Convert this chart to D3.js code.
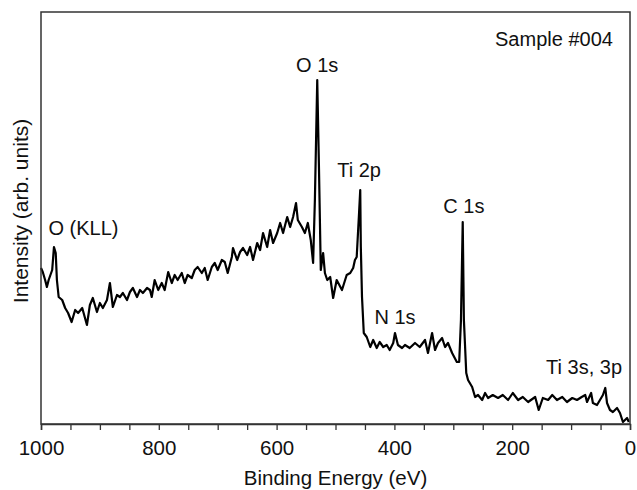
<!DOCTYPE html>
<html>
<head>
<meta charset="utf-8">
<script src="https://cdn.jsdelivr.net/npm/d3@7"></script>
<style>
  html, body { margin: 0; padding: 0; background: #fff; }
  svg { display: block; }
  text { font-family: "Liberation Sans", Arial, Helvetica, sans-serif; fill: #111; }
</style>
</head>
<body>
<svg id="chart" width="637" height="490"></svg>
<script>
// Binding energy (eV)
const energy = [1000,997,993,990,987,981,978,975,973,970,964,959,954,948,942,937,930,922,917,912,905,900,895,888,883,878,871,866,861,854,849,844,837,832,827,820,815,812,807,801,795,790,784,778,773,768,761,756,751,744,739,734,727,722,717,710,705,700,693,688,683,676,674,667,662,657,650,645,640,633,628,623,616,611,606,599,594,589,582,577,572,567,564,557,552,547,542,538,535,531,528,525,521,518,514,509,504,498,489,481,475,470,467,464,460,458,457,455,452,447,441,436,430,425,419,413,408,402,399,394,387,382,374,365,357,348,343,336,331,326,319,314,309,302,294,290,287,284,282,278,275,268,263,258,251,246,241,233,224,216,207,199,190,182,173,161,155,148,139,132,124,115,107,98,90,82,76,73,66,63,56,51,46,42,39,34,29,22,17,12,5,2];
// Intensity (arb. units)
const intensity = [156,152,144,137,144,154,177,171,144,127,124,116,111,102,114,111,116,99,119,126,112,121,116,124,141,117,129,127,131,124,132,136,127,134,131,136,134,127,144,134,141,134,152,141,149,144,151,141,149,146,154,157,151,156,144,157,161,154,164,162,151,167,176,164,172,176,169,177,164,181,174,191,177,194,181,191,201,191,207,197,207,221,204,197,191,201,184,161,224,344,254,154,171,151,144,147,126,144,134,149,151,156,164,167,211,234,177,127,91,87,77,84,76,82,77,79,74,81,91,79,76,79,76,81,77,84,71,91,74,81,86,77,81,71,62,62,104,202,104,51,44,37,27,29,24,31,26,29,26,29,24,31,24,27,22,27,14,26,24,29,24,27,22,26,24,27,29,22,31,21,19,24,29,36,21,14,12,16,11,2,6,2];

const xMajorTicks = [1000, 800, 600, 400, 200, 0];
const xMinorTicks = d3.range(0, 1001, 50);

const peakLabels = ["O (KLL)", "O 1s", "Ti 2p", "C 1s", "N 1s", "Ti 3s, 3p"];
const peakLabelEnergy = [928, 531, 460, 282, 399, 78];
const peakLabelIntensity = [189, 352, 247, 211, 100, 50];

const sampleLabel = "Sample #004";
const xTitle = "Binding Energy (eV)";
const yTitle = "Intensity (arb. units)";

const svg = d3.select("#chart");
const mLeft = 41, mRight = 630, mTop = 12, mBottom = 424;

const x = d3.scaleLinear().domain([1000, 0]).range([mLeft, mRight]);
const y = d3.scaleLinear().domain([0, 412]).range([mBottom, mTop]);

const axisColor = "#333";

// spectrum line
const data = energy.map((e, i) => ({e, v: intensity[i]}));
svg.append("path")
  .datum(data)
  .attr("fill", "none")
  .attr("stroke", "#000")
  .attr("stroke-width", 2.2)
  .attr("stroke-linejoin", "round")
  .attr("d", d3.line().x(d => x(d.e)).y(d => y(d.v)));

// frame
svg.append("rect")
  .attr("x", mLeft).attr("y", mTop)
  .attr("width", mRight - mLeft).attr("height", mBottom - mTop)
  .attr("fill", "none").attr("stroke", axisColor).attr("stroke-width", 1.5);

// x axis
const xAxis = d3.axisBottom(x)
  .tickValues(xMinorTicks)
  .tickSize(6)
  .tickFormat(d => xMajorTicks.includes(d) ? d : "");
const gx = svg.append("g").attr("transform", `translate(0,${mBottom})`).call(xAxis);
gx.select(".domain").attr("stroke", axisColor).attr("stroke-width", 1.5);
gx.selectAll(".tick line").attr("stroke", axisColor).attr("stroke-width", 1.3);
gx.selectAll(".tick text")
  .attr("y", 0).attr("dy", 0)
  .attr("transform", "translate(0,31)")
  .style("font-size", "20.5px")
  .style("font-family", "'Liberation Sans', Arial, sans-serif")
  .attr("fill", "#111");

// axis titles
svg.append("text")
  .attr("x", (mLeft + mRight) / 2).attr("y", 485)
  .attr("text-anchor", "middle")
  .style("font-size", "20.5px")
  .text(xTitle);

svg.append("text")
  .attr("transform", `translate(28,${(mTop + mBottom) / 2 - 7}) rotate(-90)`)
  .attr("text-anchor", "middle")
  .style("font-size", "21px")
  .text(yTitle);

// peak labels
svg.selectAll("text.peak")
  .data(peakLabels)
  .enter().append("text")
  .attr("class", "peak")
  .attr("x", (d, i) => x(peakLabelEnergy[i]))
  .attr("y", (d, i) => y(peakLabelIntensity[i]))
  .attr("text-anchor", "middle")
  .style("font-size", "20px")
  .text(d => d);

svg.append("text")
  .attr("x", x(29)).attr("y", y(378))
  .attr("text-anchor", "end")
  .style("font-size", "20px")
  .text(sampleLabel);
</script>
</body>
</html>
